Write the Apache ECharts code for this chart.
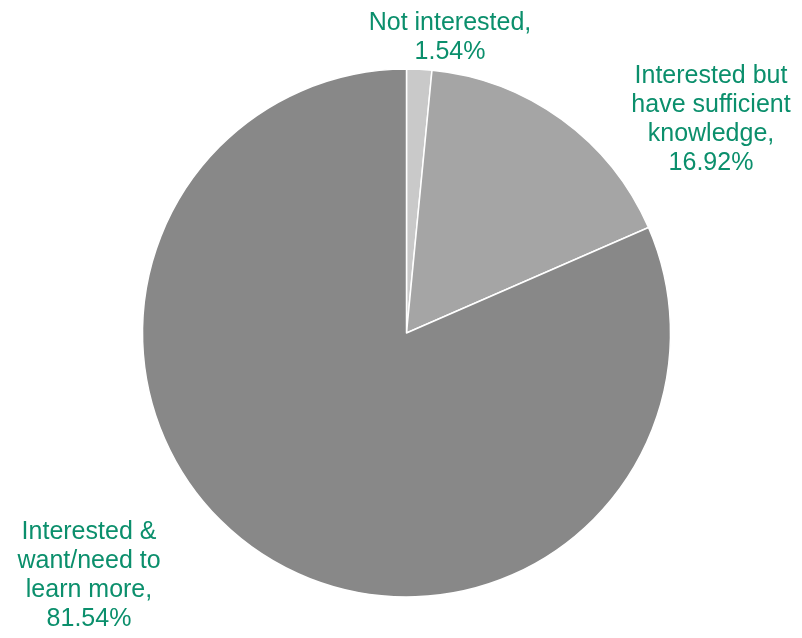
<!DOCTYPE html>
<html><head><meta charset="utf-8">
<script src="https://cdn.jsdelivr.net/npm/echarts@6/dist/echarts.min.js"></script>
<style>html,body{margin:0;padding:0;background:#fff}#c{width:802px;height:638px}</style>
</head><body><div id="c"></div>
<script>
var categories = ['Not interested', 'Interested but have sufficient knowledge', 'Interested & want/need to learn more'];
var labelTexts = ['Not interested,\n1.54%', 'Interested but\nhave sufficient\nknowledge,\n16.92%', 'Interested &\nwant/need to\nlearn more,\n81.54%'];
var values = [1.54, 16.92, 81.54];
var colors = ['#c9c9c9', '#a5a5a5', '#888888'];
var labelPos = [[450, 38], [711, 120], [89, 576]];

var chart = echarts.init(document.getElementById('c'));
chart.setOption({
  animation: false,
  series: [{
    type: 'pie',
    center: [406.5, 333],
    radius: [0, 264],
    startAngle: 90,
    clockwise: true,
    data: values.map(function (v, i) {
      return { name: categories[i], value: v, itemStyle: { color: colors[i] } };
    }),
    itemStyle: { borderColor: '#fff', borderWidth: 1.5 },
    label: {
      show: true,
      position: 'inside',
      overflow: 'none',
      formatter: function (p) { return labelTexts[p.dataIndex]; },
      color: '#0b8f6c',
      fontFamily: 'Liberation Sans, Arial, sans-serif',
      fontSize: 25,
      lineHeight: 29,
      align: 'center'
    },
    labelLine: { show: false },
    labelLayout: function (p) {
      var pos = labelPos[p.dataIndex];
      return { x: pos[0], y: pos[1], align: 'center', verticalAlign: 'middle' };
    }
  }]
});
</script></body></html>
